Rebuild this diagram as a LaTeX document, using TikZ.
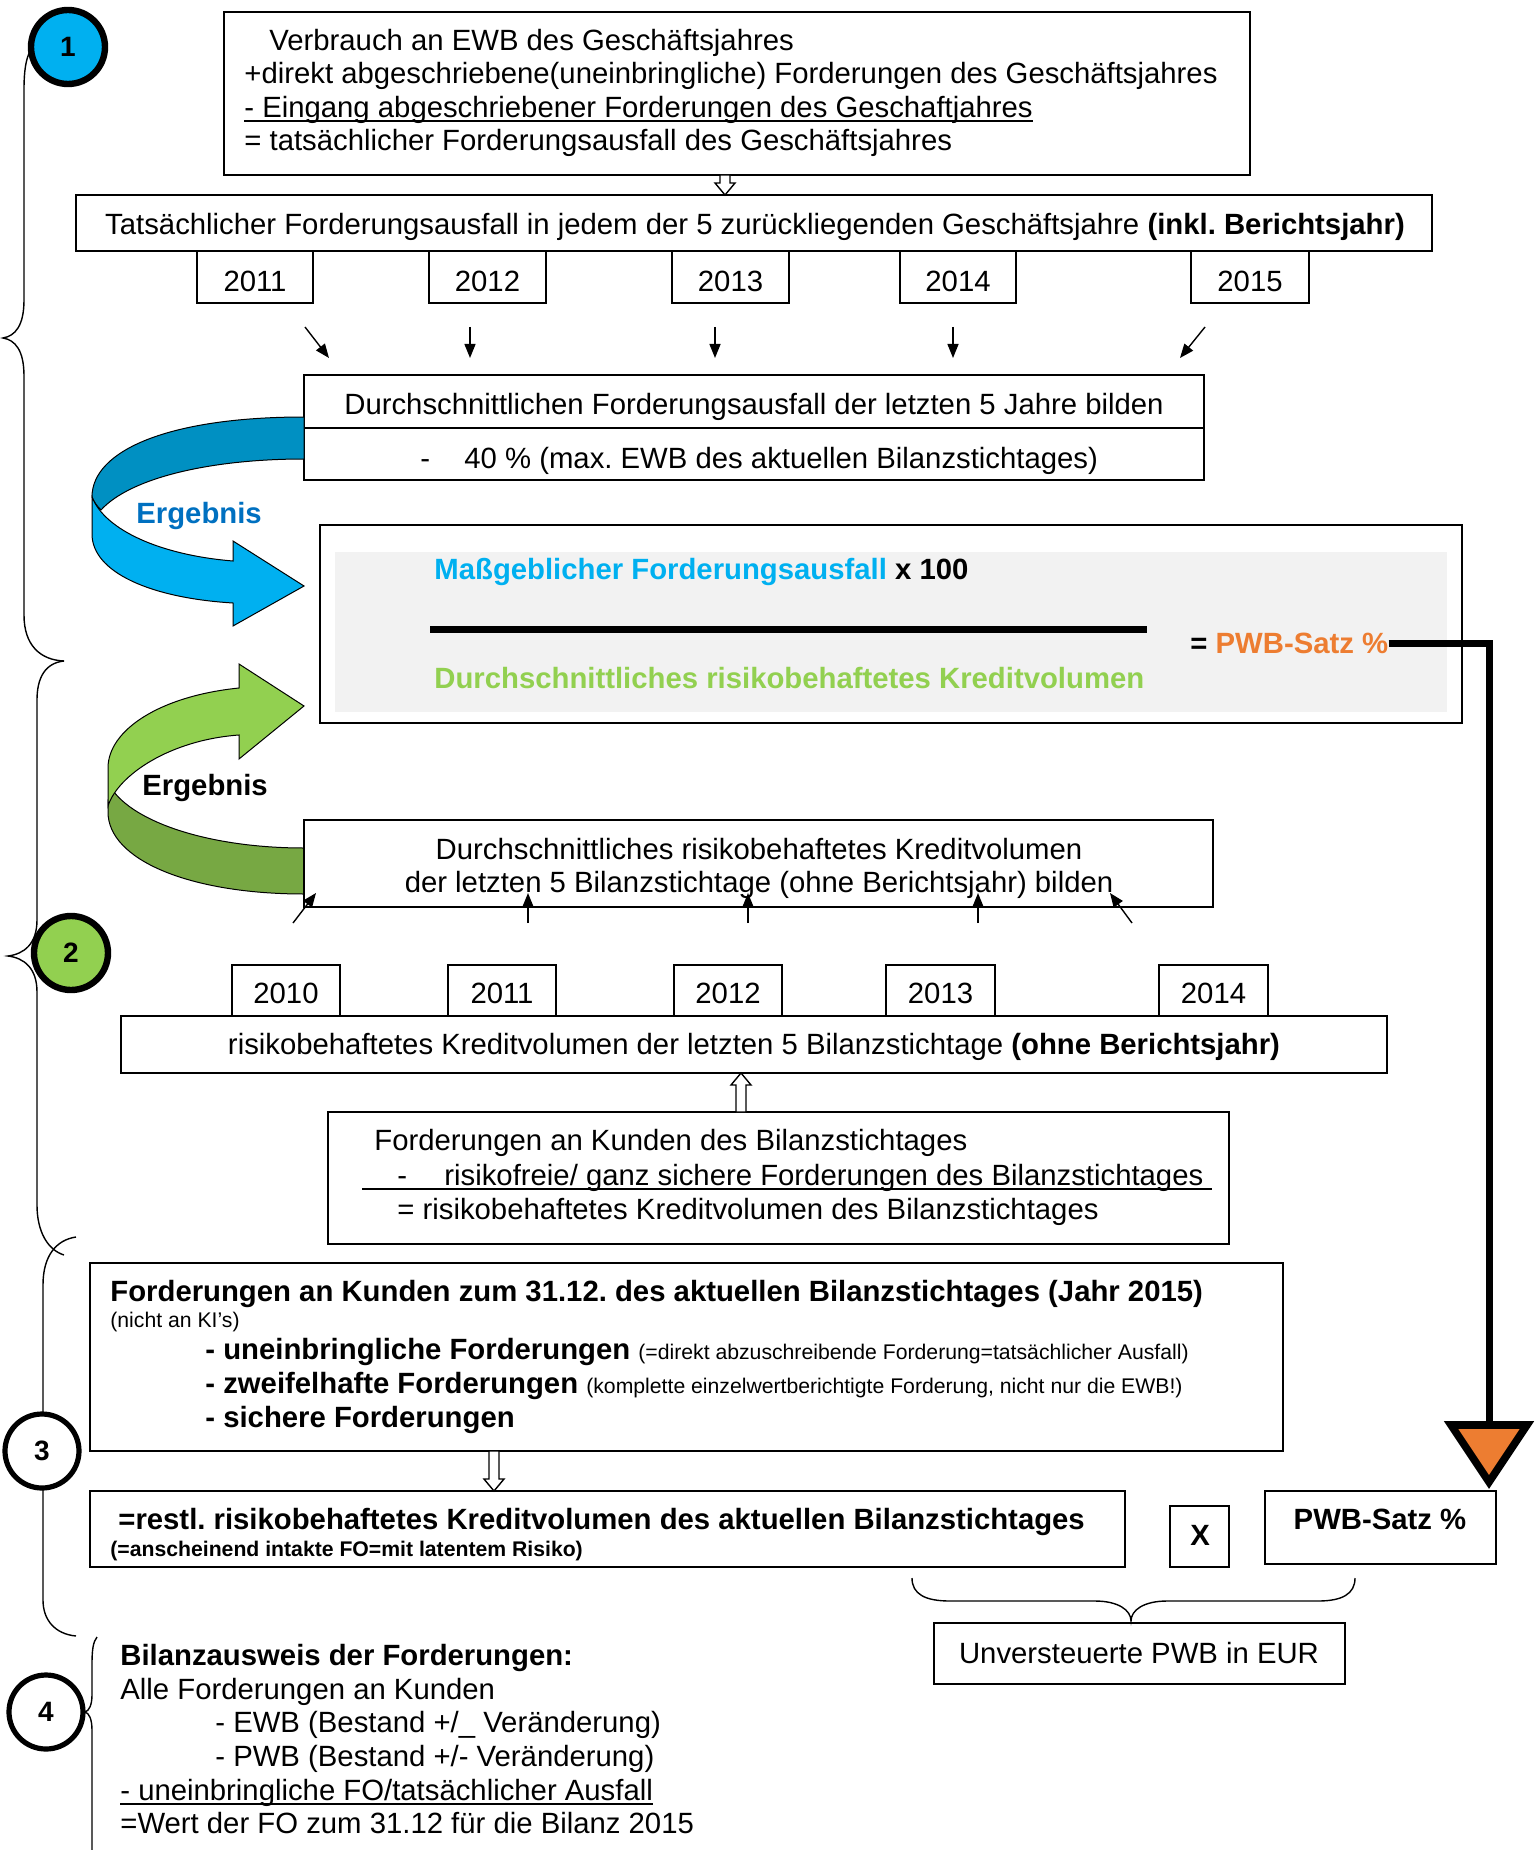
\documentclass[tikz,border=0pt]{standalone}
\usepackage{fontspec}
\setmainfont{Liberation Sans}
\usetikzlibrary{arrows.meta,fit,calc}
\frenchspacing

\definecolor{hellblau}{HTML}{00B0F0}
\definecolor{dunkelblau}{HTML}{0090C2}
\definecolor{textblau}{HTML}{0070C0}
\definecolor{hellgruen}{HTML}{92D050}
\definecolor{dunkelgruen}{HTML}{77A843}
\definecolor{pwborange}{HTML}{ED7D31}
\definecolor{formelgrau}{HTML}{F2F2F2}

\newcommand\mainsz{\fontsize{14.65}{16.8}\selectfont}
\newcommand\kleinsz{\fontsize{10.6}{12.5}\selectfont}
\newcommand\uln[1]{\leavevmode\setbox0\hbox{#1}\rlap{\rule[-2.2pt]{\wd0}{0.9pt}}\box0}
% hollow arrow between two named coordinates
\newcommand\hohlpfeil[2]{%
  \draw[line width=0.7pt, fill=white] let \p1=(#1), \p2=(#2), \n1={sign(\y2-(\y1))} in
    ({\x1-2.5pt},{\y1}) -- ({\x1-2.5pt},{\y2-(\n1)*6pt}) -- ({\x1-5pt},{\y2-(\n1)*6pt}) -- (\x2,\y2)
    -- ({\x1+5pt},{\y2-(\n1)*6pt}) -- ({\x1+2.5pt},{\y2-(\n1)*6pt}) -- ({\x1+2.5pt},{\y1}) -- cycle;}

\begin{document}
\begin{tikzpicture}[x=0.5pt, y=-0.5pt, font=\mainsz,
    box/.style={draw, line width=0.9pt, inner sep=0pt},
    txt/.style={inner sep=0pt, text height=10.5pt, text depth=0pt},
    lft/.style={txt, anchor=west},
    klein/.style={inner sep=0pt, text height=7.6pt, text depth=0pt, anchor=west, font=\kleinsz},
    pfeil/.style={line width=0.7pt, -{Triangle[length=7pt, width=5.5pt]}},
    klammer/.style={line width=0.7pt},
    schritt/.style={circle, draw, inner sep=0pt, minimum size=37pt, font=\fontsize{14}{14}\selectfont\bfseries},
    band/.style={draw=black, line width=0.5pt}]
\useasboundingbox (0,0) rectangle (1539,1850);

% Klammern links
\draw[klammer] (40,40) .. controls (28,48) and (24,62) .. (24,90) -- (24,300)
  .. controls (24,326) and (15,336) .. (3,338) .. controls (15,340) and (24,350) .. (24,376)
  -- (24,615) .. controls (24,645) and (40,660) .. (64,661);
\draw[klammer] (64,661) .. controls (45,663) and (37,678) .. (37,700) -- (37,920)
  .. controls (37,944) and (24,954) .. (8,956) .. controls (24,958) and (37,968) .. (37,992)
  -- (37,1205) .. controls (37,1232) and (48,1250) .. (64,1255);
\draw[klammer] (76,1237) .. controls (56,1240) and (43,1256) .. (43,1285) -- (43,1600)
  .. controls (43,1620) and (55,1634) .. (76,1636);
\draw[klammer] (97,1637) .. controls (93,1642) and (92,1650) .. (92,1665) -- (92,1695)
  .. controls (92,1705) and (89,1711) .. (85,1712) .. controls (89,1713) and (92,1719) .. (92,1730)
  -- (92,1850);

\node[schritt, fill=hellblau, line width=3.2pt] (s1) at (68,47) {1};
\node[schritt, fill=hellgruen, line width=3.2pt] (s2) at (71,953) {2};
\node[schritt, fill=white, line width=2.6pt] (s3) at (42,1451) {3};
\node[schritt, fill=white, line width=2.6pt] (s4) at (46,1712) {4};

% Schritt 1: Forderungsausfall
\node[box, fit={(224,12) (1250,175)}] (verbrauch) {};
\node[lft] (v1) at (269,40) {Verbrauch an EWB des Geschäftsjahres};
\node[lft] (v2) at (244,73) {+direkt abgeschriebene(uneinbringliche) Forderungen des Geschäftsjahres};
\node[lft] (v3) at (244,107) {\uln{- Eingang abgeschriebener Forderungen des Geschaftjahres}};
\node[lft] (v4) at (244,140) {= tatsächlicher Forderungsausfall des Geschäftsjahres};

\node[box, fit={(76,195) (1432,251)}] (ausfall) {};
\node[txt] (ausfalltext) at (755,224) {Tatsächlicher Forderungsausfall in jedem der 5 zurückliegenden Geschäftsjahre \textbf{(inkl. Berichtsjahr)}};
\coordinate (h1a) at (725,175);
\coordinate (h1b) at (725,195);
\hohlpfeil{h1a}{h1b}

\foreach \a/\b/\jahr [count=\i] in {197/313/2011, 429/546/2012, 672/789/2013, 900/1016/2014, 1191/1309/2015} {
  \node[box, fit={(\a,251) (\b,303)}] (ja\i) {};
  \node[txt] at ({(\a+\b)/2},281) {\jahr};
}
\foreach \xa/\xb [count=\i] in {305/329, 470/470, 715/715, 953/953, 1205/1180} {
  \coordinate (pa\i) at (\xa,327);
  \coordinate (pe\i) at (\xb,358);
  \draw[pfeil] (pa\i) -- (pe\i);
}

\node[box, fit={(304,375) (1204,428)}] (schnitt) {};
\node[box, fit={(304,428) (1204,480)}] (abzug) {};
\node[txt] (schnitttext) at (754,404) {Durchschnittlichen Forderungsausfall der letzten 5 Jahre bilden};
\node[lft] (abzugstrich) at (420,458) {-};
\node[lft] (abzugtext) at (464,458) {40 \% (max. EWB des aktuellen Bilanzstichtages)};

% blauer Pfeil
\filldraw[band, fill=dunkelblau] (304,417) .. controls (170,417) and (92,450) .. (92,497)
  .. controls (94,502) and (97,506) .. (101,510) .. controls (130,478) and (210,459) .. (304,459) -- cycle;
\filldraw[band, fill=hellblau] (92,497) -- (92,534) .. controls (92,572) and (150,598) .. (233,603)
  -- (233,626) -- (304,586) -- (233,541) -- (233,561) .. controls (160,555) and (105,530) .. (92,497) -- cycle;
\node[lft, text=textblau] (erg1) at (136,513) {\bfseries Ergebnis};

% Formel
\node[box, fit={(320,525) (1462,723)}] (formel) {};
\node[fit={(335,552) (1447,712)}, inner sep=0pt, fill=formelgrau] (grau) {};
\node[lft] (zaehler) at (434,569) {\bfseries\textcolor{hellblau}{Maßgeblicher Forderungsausfall} x 100};
\coordinate (bruch1) at (430,629);
\coordinate (bruch2) at (1147,629);
\draw[line width=3.5pt] (bruch1) -- (bruch2);
\node[lft, text=hellgruen] (nenner) at (434,678) {\bfseries Durchschnittliches risikobehaftetes Kreditvolumen};
\node[lft] (pwbformel) at (1190,643) {\bfseries = \textcolor{pwborange}{PWB-Satz \%}};

% gruener Pfeil
\filldraw[band, fill=dunkelgruen] (108,800) -- (108,812) .. controls (108,860) and (190,894) .. (304,894)
  -- (304,848) .. controls (215,848) and (140,825) .. (114,792) -- cycle;
\filldraw[band, fill=hellgruen] (304,706) -- (239,664) -- (239,688) .. controls (160,696) and (108,730) .. (108,768)
  -- (108,806) .. controls (118,775) and (170,740) .. (239,735) -- (239,759) -- cycle;
\node[lft] (erg2) at (142,785) {\bfseries Ergebnis};

% Schritt 2: Kreditvolumen
\node[box, fit={(304,820) (1213,907)}] (volumen) {};
\node[txt] (vol1) at (759,849) {Durchschnittliches risikobehaftetes Kreditvolumen};
\node[txt] (vol2) at (759,882) {der letzten 5 Bilanzstichtage (ohne Berichtsjahr) bilden};
\foreach \xa/\xb [count=\i] in {293/316, 528/528, 748/748, 978/978, 1132/1110} {
  \coordinate (qa\i) at (\xa,923);
  \coordinate (qe\i) at (\xb,893);
  \draw[pfeil] (qa\i) -- (qe\i);
}
\foreach \a/\b/\jahr [count=\i] in {232/340/2010, 448/556/2011, 674/782/2012, 886/995/2013, 1159/1268/2014} {
  \node[box, fit={(\a,965) (\b,1016)}] (jb\i) {};
  \node[txt] at ({(\a+\b)/2},993) {\jahr};
}
\node[box, fit={(121,1016) (1387,1073)}] (stichtage) {};
\node[txt] (stichtext) at (754,1044) {risikobehaftetes Kreditvolumen der letzten 5 Bilanzstichtage \textbf{(ohne Berichtsjahr)}};

\node[box, fit={(328,1112) (1229,1244)}] (kunden) {};
\node[lft] (k1) at (374,1140) {Forderungen an Kunden des Bilanzstichtages};
\node[lft] (k2a) at (397,1175) {-};
\node[lft] (k2) at (444,1175) {risikofreie/ ganz sichere Forderungen des Bilanzstichtages};
\coordinate (strich1) at (362,1189);
\coordinate (strich2) at (1212,1189);
\draw[line width=0.8pt] (strich1) -- (strich2);
\node[lft] (k3) at (397,1209) {= risikobehaftetes Kreditvolumen des Bilanzstichtages};
\coordinate (h2a) at (741,1112);
\coordinate (h2b) at (741,1073);
\hohlpfeil{h2a}{h2b}

% Schritt 3: Forderungen zum Stichtag
\node[box, line width=1.1pt, fit={(90,1263) (1283,1451)}] (stichtag) {};
\node[lft] (f1) at (110,1291) {\bfseries Forderungen an Kunden zum 31.12. des aktuellen Bilanzstichtages (Jahr 2015)};
\node[klein] (f2) at (110,1320) {(nicht an KI’s)};
\node[lft] (f3) at (205,1349) {\textbf{- uneinbringliche Forderungen} {\kleinsz (=direkt abzuschreibende Forderung=tatsächlicher Ausfall)}};
\node[lft] (f4) at (205,1383) {\textbf{- zweifelhafte Forderungen} {\kleinsz (komplette einzelwertberichtigte Forderung, nicht nur die EWB!)}};
\node[lft] (f5) at (205,1417) {\bfseries - sichere Forderungen};

\node[box, line width=1.1pt, fit={(90,1491) (1125,1567)}] (restvolumen) {};
\node[lft] (r1) at (118,1519) {\bfseries =restl. risikobehaftetes Kreditvolumen des aktuellen Bilanzstichtages};
\node[klein] (r2) at (110,1549) {\bfseries (=anscheinend intakte FO=mit latentem Risiko)};
\coordinate (h3a) at (494,1451);
\coordinate (h3b) at (494,1491);
\hohlpfeil{h3a}{h3b}

\node[box, fit={(1170,1506) (1229,1567)}] (mal) {};
\node[txt] at (1200,1535) {\bfseries X};
\node[box, fit={(1265,1491) (1496,1564)}] (pwbsatz) {};
\node[txt] at (1380,1519) {\bfseries PWB-Satz \%};

% PWB-Satz nach unten
\coordinate (knick) at (1489,643);
\coordinate (spitze) at (1489,1425);
\draw[line width=3.5pt] (pwbformel.east) -- (knick) -- (spitze);
\draw[line width=3.8pt, fill=pwborange, line join=miter] (1451,1425) -- (1527,1425) -- (1489,1482) -- cycle;

\draw[klammer] (912,1578) .. controls (912,1594) and (925,1601) .. (950,1601) -- (1095,1601)
  .. controls (1118,1601) and (1131,1610) .. (1131,1621) .. controls (1131,1610) and (1144,1601) .. (1167,1601)
  -- (1318,1601) .. controls (1342,1601) and (1355,1594) .. (1355,1578);
\node[box, fit={(934,1623) (1345,1684)}] (ergebnis) {};
\node[txt] at (1139,1653) {Unversteuerte PWB in EUR};

% Schritt 4: Bilanzausweis
\node[lft] (b1) at (120,1655) {\bfseries Bilanzausweis der Forderungen:};
\node[lft] (b2) at (120,1689) {Alle Forderungen an Kunden};
\node[lft] (b3) at (215,1722) {- EWB (Bestand +/\_ Veränderung)};
\node[lft] (b4) at (215,1756) {- PWB (Bestand +/- Veränderung)};
\node[lft] (b5) at (120,1790) {\uln{- uneinbringliche FO/tatsächlicher Ausfall}};
\node[lft] (b6) at (120,1823) {=Wert der FO zum 31.12 für die Bilanz 2015};
\end{tikzpicture}
\end{document}
